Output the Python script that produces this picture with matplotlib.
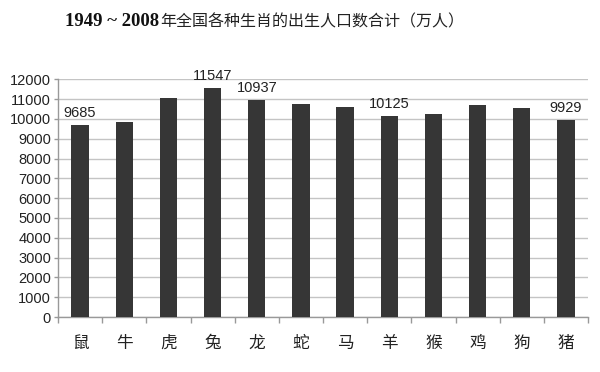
import matplotlib
matplotlib.use("Agg")
import matplotlib.pyplot as plt

categories = ["鼠", "牛", "虎", "兔", "龙", "蛇", "马", "羊", "猴", "鸡", "狗", "猪"]
values = [9685, 9850, 11050, 11547, 10937, 10765, 10580, 10125, 10250, 10680, 10550, 9929]
labeled = [0, 3, 4, 7, 11]
yticks = list(range(0, 12001, 1000))
title_num = "1949 ~ 2008"
title_cn = "年全国各种生肖的出生人口数合计（万人）"

cjk = ["Noto Sans CJK SC", "DejaVu Sans"]
num_font = "Liberation Sans"

fig = plt.figure(figsize=(6.0, 3.72), dpi=100)
ax = fig.add_axes([0.0967, 0.1478, 0.8833, 0.639])

x = list(range(len(categories)))
ax.bar(x, values, width=0.39, color="#363636", zorder=3)
ax.set_xlim(-0.5, len(categories) - 0.5)
ax.set_ylim(0, 12000)
ax.set_yticks(yticks)
ax.set_yticklabels([str(v) for v in yticks], fontfamily=num_font, fontsize=10.5, color="#222222")
ax.grid(axis="y", color="#c4c4c4", linewidth=1.0, zorder=0)
ax.set_xticks(x)
ax.set_xticklabels(categories, fontfamily=cjk, fontsize=12, color="#222222")
ax.tick_params(axis="x", length=0, pad=13)
ax.set_xticks([i + 0.5 for i in range(-1, len(categories))], minor=True)
ax.tick_params(axis="x", which="minor", length=4, color="#999999", width=1)
ax.tick_params(axis="y", length=3, color="#999999", width=1, pad=2)
for s in ["top", "right"]:
    ax.spines[s].set_visible(False)
for s in ["left", "bottom"]:
    ax.spines[s].set_color("#999999")
    ax.spines[s].set_linewidth(1)

for i in labeled:
    ax.annotate(str(values[i]), xy=(i, values[i]), xytext=(0, 4), textcoords="offset points",
                ha="center", va="bottom", fontfamily=num_font, fontsize=10.5, color="#222222")

t1 = fig.text(65 / 600, 1 - 22 / 372, title_num, ha="left", va="center",
              fontfamily="Liberation Serif", fontweight="bold", fontsize=13.5, color="#111111")
ax.annotate(title_cn, xy=(1, 0.5), xycoords=t1, xytext=(1, 0), textcoords="offset points",
            ha="left", va="center", fontfamily=cjk, fontsize=11.5, color="#222222",
            annotation_clip=False)

fig.savefig("out.png", dpi=100)
